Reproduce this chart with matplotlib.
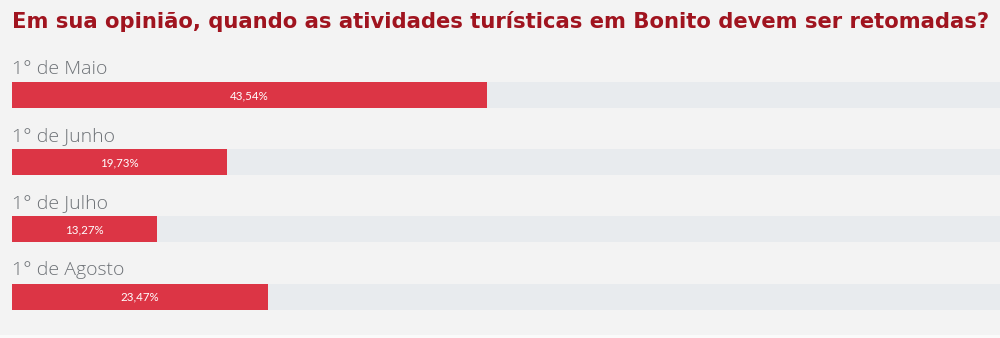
import matplotlib.pyplot as plt
from matplotlib.patches import Rectangle

title = "Em sua opinião, quando as atividades turísticas em Bonito devem ser retomadas?"
categories = ["1° de Maio", "1° de Junho", "1° de Julho", "1° de Agosto"]
values = [43.54, 19.73, 13.27, 23.47]
value_labels = ["43,54%", "19,73%", "13,27%", "23,47%"]

W, H = 1000, 338
fig = plt.figure(figsize=(W / 100, H / 100), dpi=100)
fig.patch.set_facecolor("#f3f3f3")
fig.patches.append(Rectangle((0, 0), 1, 3 / H, transform=fig.transFigure,
                             facecolor="#fafafa", edgecolor="none", zorder=0))

ax = fig.add_axes([0, 0, 1, 1])
ax.set_facecolor("none")
ax.axis("off")

px_per_pct = 10.9
left_px = 12
ax.set_xlim(-left_px / px_per_pct, (W - left_px) / px_per_pct)
row_px = 67
first_center = 95.5
ax.set_ylim((H - first_center) / row_px, -first_center / row_px)

bar_h = 26 / row_px
ypos = list(range(len(categories)))
ax.barh(ypos, [100] * len(values), height=bar_h, color="#e8ebee", zorder=1)
ax.barh(ypos, values, height=bar_h, color="#dc3545", zorder=2)

for y, cat, v, lab in zip(ypos, categories, values, value_labels):
    ax.text(0, y - 0.40, cat, ha="left", va="center", fontsize=14,
            color="#6e7277", family="Open Sans", fontweight="light", zorder=3)
    ax.text(v / 2, y, lab, ha="center", va="center", fontsize=8.3,
            color="white", family="Lato", zorder=3)

fig.text(left_px / W, 1 - 21 / H, title, ha="left", va="center",
         fontsize=15.2, fontweight="bold", color="#a0141f", family="DejaVu Sans")

fig.savefig("out.png", dpi=100, facecolor=fig.get_facecolor())
